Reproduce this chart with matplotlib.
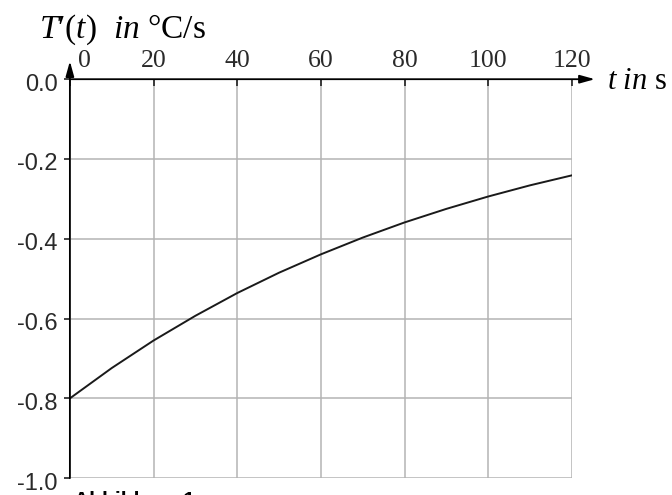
import matplotlib
matplotlib.use("Agg")
import matplotlib.pyplot as plt
import matplotlib.transforms as mtransforms

plt.rcParams['font.family'] = ['Liberation Serif', 'DejaVu Serif']
plt.rcParams['mathtext.fontset'] = 'custom'
plt.rcParams['mathtext.rm'] = 'Liberation Serif'
plt.rcParams['mathtext.it'] = 'Liberation Serif:italic'
plt.rcParams['axes.unicode_minus'] = False

t_values = [0, 10, 20, 30, 40, 50, 60, 70, 80, 90, 100, 110, 120]
rate_values = [-0.800, -0.724, -0.655, -0.593, -0.536, -0.485, -0.439,
               -0.397, -0.359, -0.325, -0.294, -0.266, -0.241]

x_ticks = [0, 20, 40, 60, 80, 100, 120]
y_ticks = [0.0, -0.2, -0.4, -0.6, -0.8, -1.0]
y_labels = ['0.0', '-0.2', '-0.4', '-0.6', '-0.8', '-1.0']

fig = plt.figure(figsize=(6.72, 4.95), dpi=100)
ax = fig.add_axes([0.104, 0.034, 0.747, 0.806])
ax.set_xlim(0, 120)
ax.set_ylim(-1.0, 0.0)

for s in ax.spines.values():
    s.set_visible(False)

ax.set_xticks(x_ticks)
ax.set_yticks(y_ticks)
ax.set_yticklabels(y_labels, family='Liberation Sans')
ax.grid(True, color='#b4b4b4', lw=1.1)
ax.set_axisbelow(True)

ax.tick_params(axis='x', bottom=False, labelbottom=False, top=True, labeltop=True,
               direction='in', length=5, width=1.2, color='#222222',
               labelsize=18.5, pad=5, labelcolor='#2a2a2a')
ax.tick_params(axis='y', left=True, direction='out', length=4, width=1.2,
               color='#222222', labelsize=17, pad=5, labelcolor='#2a2a2a')

# "0" etwas nach rechts, y-Beschriftungen leicht nach unten
first = ax.get_xticklabels()[0]
first.set_transform(first.get_transform() +
                    mtransforms.ScaledTranslation(15 / 100, 0, fig.dpi_scale_trans))
for lab in ax.get_yticklabels():
    lab.set_transform(lab.get_transform() +
                      mtransforms.ScaledTranslation(0, -3 / 100, fig.dpi_scale_trans))

# Achsen mit Pfeilen
ax.annotate('', xy=(125.5, 0), xytext=(0, 0), annotation_clip=False,
            arrowprops=dict(arrowstyle='-|>,head_length=0.9,head_width=0.25',
                            color='black', lw=1.3, shrinkA=0, shrinkB=0))
ax.annotate('', xy=(0, 0.045), xytext=(0, -1.0), annotation_clip=False,
            arrowprops=dict(arrowstyle='-|>,head_length=0.9,head_width=0.25',
                            color='black', lw=1.3, shrinkA=0, shrinkB=0))

ax.plot(t_values, rate_values, color='#1a1a1a', lw=1.4)

fig.text(0.058, 0.940, r"$T$′($t$)  $\mathit{in}$ °C/s", fontsize=24, va='center')
fig.text(0.903, 0.835, r"$t\ \mathit{in}$ s", fontsize=22, va='center')

# Bildunterschrift (unten abgeschnitten)
fig.text(0.11, 0.008, 'Abbildung 1', fontsize=15, fontweight='bold', va='top',
         family='Liberation Sans')

fig.savefig('out.png', dpi=100)
